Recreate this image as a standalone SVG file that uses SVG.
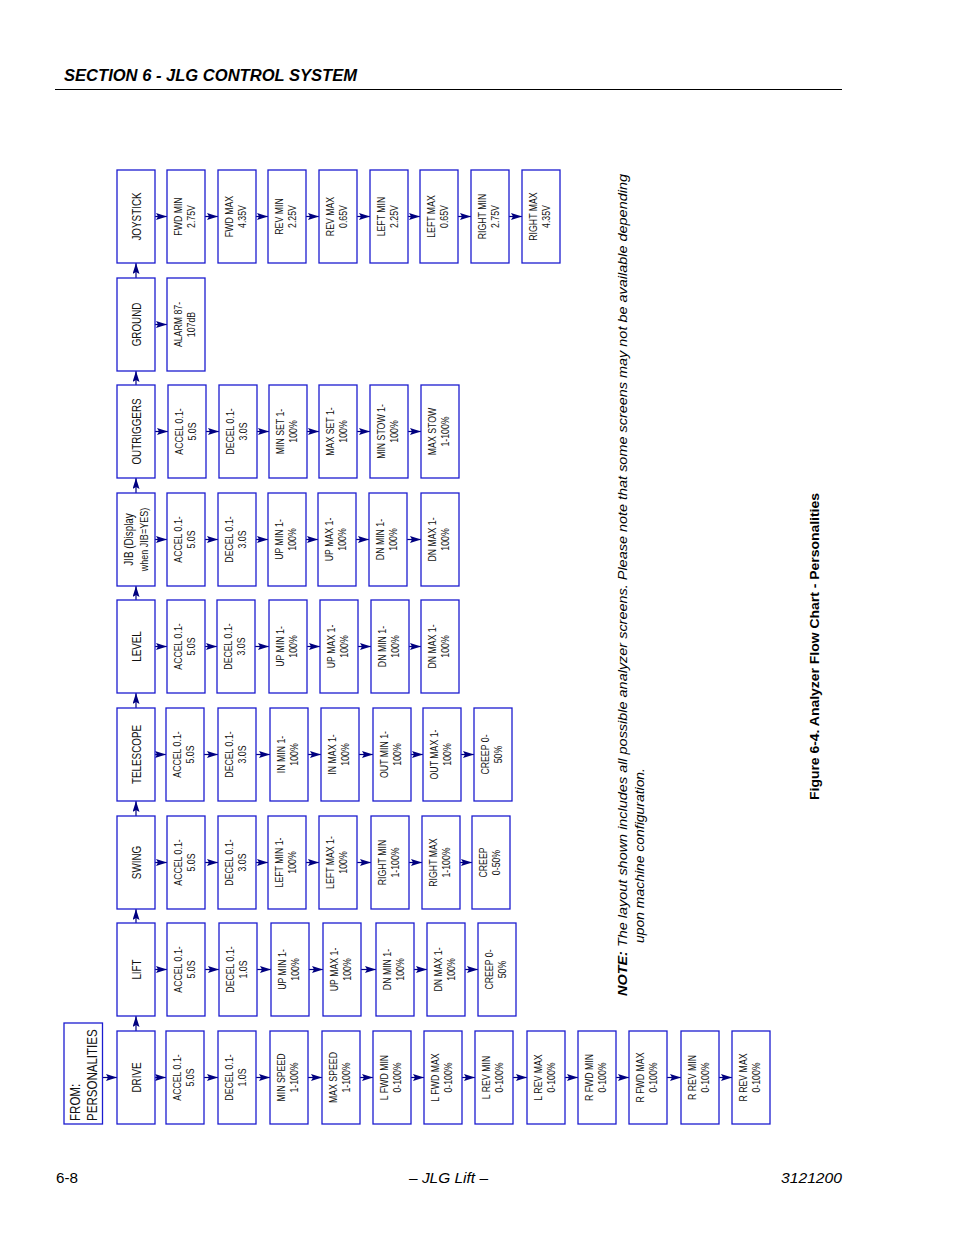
<svg xmlns="http://www.w3.org/2000/svg" width="954" height="1235" viewBox="0 0 954 1235">
<style>
.b{fill:#fff;stroke:#1c1cd0;stroke-width:1.3}
.c{font-family:"Liberation Sans",Arial,sans-serif;font-size:12px;fill:#111;text-anchor:middle}
.v{font-family:"Liberation Sans",Arial,sans-serif;font-size:10.3px;fill:#111;text-anchor:middle}
.cn path{fill:none;stroke:#000080;stroke-width:1.2;marker-end:url(#ah)}
.t{font-family:"Liberation Sans",Arial,sans-serif;fill:#000}
</style>
<defs>
<marker id="ah" viewBox="0 0 11 7" refX="11" refY="3.5" markerWidth="11" markerHeight="7" orient="auto" markerUnits="userSpaceOnUse"><path d="M0,0L11,3.5L0,7L2,3.5z" fill="#000080"/></marker>
</defs>
<rect width="954" height="1235" fill="#fff"/>
<g id="header">
<text class="t" x="64" y="81" font-size="16" font-weight="bold" font-style="italic" textLength="293" lengthAdjust="spacingAndGlyphs">SECTION 6 - JLG CONTROL SYSTEM</text>
<line x1="55" y1="89.5" x2="842" y2="89.5" stroke="#000" stroke-width="1"/>
</g>
<g id="footer">
<text class="t" x="56" y="1183" font-size="14" textLength="22" lengthAdjust="spacingAndGlyphs">6-8</text>
<text class="t" x="409" y="1183" font-size="14" font-style="italic" textLength="79" lengthAdjust="spacingAndGlyphs">– JLG Lift –</text>
<text class="t" x="781" y="1183" font-size="14" font-style="italic" textLength="61" lengthAdjust="spacingAndGlyphs">3121200</text>
</g>
<g id="note">
<text class="t" font-size="13" font-style="italic" transform="translate(627,996) rotate(-90)" textLength="822" lengthAdjust="spacingAndGlyphs"><tspan font-weight="bold">NOTE:</tspan> The layout shown includes all possible analyzer screens. Please note that some screens may not be available depending</text>
<text class="t" font-size="13" font-style="italic" transform="translate(644,943) rotate(-90)" textLength="175" lengthAdjust="spacingAndGlyphs">upon machine configuration.</text>
</g>
<g id="caption">
<text class="t" font-size="13" font-weight="bold" transform="translate(819,800) rotate(-90)" textLength="307" lengthAdjust="spacingAndGlyphs">Figure 6-4.  Analyzer Flow Chart - Personalities</text>
</g>

<g class="cn" id="connectors">
<path d="M103,1077.5H117"/>
<path d="M136,1031V1016"/><path d="M136,923V909"/><path d="M136,816V801"/><path d="M136,708V693"/><path d="M136,600V586"/><path d="M136,493V478"/><path d="M136,385V371"/><path d="M136,278V263"/>
<path d="M155,216.5H167"/><path d="M205,216.5H218"/><path d="M256,216.5H268"/><path d="M306,216.5H319"/><path d="M357,216.5H370"/><path d="M408,216.5H420"/><path d="M458,216.5H471"/><path d="M509,216.5H522"/>
<path d="M155,324.5H167"/>
<path d="M155,431.5H168"/><path d="M206,431.5H219"/><path d="M257,431.5H269"/><path d="M307,431.5H319"/><path d="M357,431.5H370"/><path d="M408,431.5H421"/>
<path d="M155,539.5H167"/><path d="M205,539.5H218"/><path d="M256,539.5H268"/><path d="M306,539.5H318"/><path d="M356,539.5H369"/><path d="M407,539.5H421"/>
<path d="M155,646.5H167"/><path d="M205,646.5H217"/><path d="M255,646.5H269"/><path d="M307,646.5H320"/><path d="M358,646.5H371"/><path d="M409,646.5H421"/>
<path d="M155,754.5H166"/><path d="M204,754.5H218"/><path d="M256,754.5H270"/><path d="M308,754.5H321"/><path d="M359,754.5H373"/><path d="M411,754.5H423"/><path d="M461,754.5H474"/>
<path d="M155,862.5H167"/><path d="M205,862.5H218"/><path d="M256,862.5H268"/><path d="M306,862.5H319"/><path d="M357,862.5H371"/><path d="M409,862.5H422"/><path d="M460,862.5H472"/>
<path d="M155,969.5H167"/><path d="M205,969.5H219"/><path d="M257,969.5H271"/><path d="M309,969.5H323"/><path d="M361,969.5H376"/><path d="M414,969.5H427"/><path d="M465,969.5H478"/>
<path d="M155,1077.5H166"/><path d="M204,1077.5H218"/><path d="M256,1077.5H270"/><path d="M308,1077.5H322"/><path d="M360,1077.5H373"/><path d="M411,1077.5H424"/><path d="M462,1077.5H475"/><path d="M513,1077.5H527"/><path d="M565,1077.5H578"/><path d="M616,1077.5H629"/><path d="M667,1077.5H681"/><path d="M719,1077.5H732"/>
</g>

<g id="from"><rect class="b" x="64" y="1023" width="38.5" height="101"/><text class="c" style="text-anchor:start;font-size:15px" transform="translate(80,1121) rotate(-90) scale(.77,1)"><tspan x="0">FROM:</tspan><tspan x="0" dy="17.5">PERSONALITIES</tspan></text></g>

<!-- JOYSTICK row -->
<g id="joystick"><rect class="b" x="117" y="170" width="38" height="93"/><text class="c" transform="translate(140.5,216.5) rotate(-90) scale(.82,1)">JOYSTICK</text></g>
<g id="j1"><rect class="b" x="167" y="170" width="38" height="93"/><text class="v" transform="translate(182,216.5) rotate(-90) scale(.85,1)"><tspan x="0">FWD MIN</tspan><tspan x="0" dy="13">2.75V</tspan></text></g>
<g id="j2"><rect class="b" x="218" y="170" width="38" height="93"/><text class="v" transform="translate(233,216.5) rotate(-90) scale(.85,1)"><tspan x="0">FWD MAX</tspan><tspan x="0" dy="13">4.35V</tspan></text></g>
<g id="j3"><rect class="b" x="268" y="170" width="38" height="93"/><text class="v" transform="translate(283,216.5) rotate(-90) scale(.85,1)"><tspan x="0">REV MIN</tspan><tspan x="0" dy="13">2.25V</tspan></text></g>
<g id="j4"><rect class="b" x="319" y="170" width="38" height="93"/><text class="v" transform="translate(334,216.5) rotate(-90) scale(.85,1)"><tspan x="0">REV MAX</tspan><tspan x="0" dy="13">0.65V</tspan></text></g>
<g id="j5"><rect class="b" x="370" y="170" width="38" height="93"/><text class="v" transform="translate(385,216.5) rotate(-90) scale(.85,1)"><tspan x="0">LEFT MIN</tspan><tspan x="0" dy="13">2.25V</tspan></text></g>
<g id="j6"><rect class="b" x="420" y="170" width="38" height="93"/><text class="v" transform="translate(435,216.5) rotate(-90) scale(.85,1)"><tspan x="0">LEFT MAX</tspan><tspan x="0" dy="13">0.65V</tspan></text></g>
<g id="j7"><rect class="b" x="471" y="170" width="38" height="93"/><text class="v" transform="translate(486,216.5) rotate(-90) scale(.85,1)"><tspan x="0">RIGHT MIN</tspan><tspan x="0" dy="13">2.75V</tspan></text></g>
<g id="j8"><rect class="b" x="522" y="170" width="38" height="93"/><text class="v" transform="translate(537,216.5) rotate(-90) scale(.85,1)"><tspan x="0">RIGHT MAX</tspan><tspan x="0" dy="13">4.35V</tspan></text></g>

<!-- GROUND row -->
<g id="ground"><rect class="b" x="117" y="278" width="38" height="93"/><text class="c" transform="translate(140.5,324.5) rotate(-90) scale(.82,1)">GROUND</text></g>
<g id="g1"><rect class="b" x="167" y="278" width="38" height="93"/><text class="v" transform="translate(182,324.5) rotate(-90) scale(.85,1)"><tspan x="0">ALARM 87-</tspan><tspan x="0" dy="13">107dB</tspan></text></g>

<!-- OUTRIGGERS row -->
<g id="outriggers"><rect class="b" x="117" y="385" width="38" height="93"/><text class="c" transform="translate(140.5,431.5) rotate(-90) scale(.82,1)">OUTRIGGERS</text></g>
<g id="o1"><rect class="b" x="168" y="385" width="38" height="93"/><text class="v" transform="translate(183,431.5) rotate(-90) scale(.85,1)"><tspan x="0">ACCEL 0.1-</tspan><tspan x="0" dy="13">5.0S</tspan></text></g>
<g id="o2"><rect class="b" x="219" y="385" width="38" height="93"/><text class="v" transform="translate(234,431.5) rotate(-90) scale(.85,1)"><tspan x="0">DECEL 0.1-</tspan><tspan x="0" dy="13">3.0S</tspan></text></g>
<g id="o3"><rect class="b" x="269" y="385" width="38" height="93"/><text class="v" transform="translate(284,431.5) rotate(-90) scale(.85,1)"><tspan x="0">MIN SET 1-</tspan><tspan x="0" dy="13">100%</tspan></text></g>
<g id="o4"><rect class="b" x="319" y="385" width="38" height="93"/><text class="v" transform="translate(334,431.5) rotate(-90) scale(.85,1)"><tspan x="0">MAX SET 1-</tspan><tspan x="0" dy="13">100%</tspan></text></g>
<g id="o5"><rect class="b" x="370" y="385" width="38" height="93"/><text class="v" transform="translate(385,431.5) rotate(-90) scale(.85,1)"><tspan x="0">MIN STOW 1-</tspan><tspan x="0" dy="13">100%</tspan></text></g>
<g id="o6"><rect class="b" x="421" y="385" width="38" height="93"/><text class="v" transform="translate(436,431.5) rotate(-90) scale(.85,1)"><tspan x="0">MAX STOW</tspan><tspan x="0" dy="13">1-100%</tspan></text></g>

<!-- JIB row -->
<g id="jib"><rect class="b" x="117" y="493" width="38" height="93"/><text class="c" transform="translate(133,539.5) rotate(-90) scale(.82,1)"><tspan x="0">JIB (Display</tspan><tspan x="0" dy="15" style="font-size:11px">when JIB=YES)</tspan></text></g>
<g id="b1"><rect class="b" x="167" y="493" width="38" height="93"/><text class="v" transform="translate(182,539.5) rotate(-90) scale(.85,1)"><tspan x="0">ACCEL 0.1-</tspan><tspan x="0" dy="13">5.0S</tspan></text></g>
<g id="b2"><rect class="b" x="218" y="493" width="38" height="93"/><text class="v" transform="translate(233,539.5) rotate(-90) scale(.85,1)"><tspan x="0">DECEL 0.1-</tspan><tspan x="0" dy="13">3.0S</tspan></text></g>
<g id="b3"><rect class="b" x="268" y="493" width="38" height="93"/><text class="v" transform="translate(283,539.5) rotate(-90) scale(.85,1)"><tspan x="0">UP MIN 1-</tspan><tspan x="0" dy="13">100%</tspan></text></g>
<g id="b4"><rect class="b" x="318" y="493" width="38" height="93"/><text class="v" transform="translate(333,539.5) rotate(-90) scale(.85,1)"><tspan x="0">UP MAX 1-</tspan><tspan x="0" dy="13">100%</tspan></text></g>
<g id="b5"><rect class="b" x="369" y="493" width="38" height="93"/><text class="v" transform="translate(384,539.5) rotate(-90) scale(.85,1)"><tspan x="0">DN MIN 1-</tspan><tspan x="0" dy="13">100%</tspan></text></g>
<g id="b6"><rect class="b" x="421" y="493" width="38" height="93"/><text class="v" transform="translate(436,539.5) rotate(-90) scale(.85,1)"><tspan x="0">DN MAX 1-</tspan><tspan x="0" dy="13">100%</tspan></text></g>

<!-- LEVEL row -->
<g id="level"><rect class="b" x="117" y="600" width="38" height="93"/><text class="c" transform="translate(140.5,646.5) rotate(-90) scale(.82,1)">LEVEL</text></g>
<g id="l1"><rect class="b" x="167" y="600" width="38" height="93"/><text class="v" transform="translate(182,646.5) rotate(-90) scale(.85,1)"><tspan x="0">ACCEL 0.1-</tspan><tspan x="0" dy="13">5.0S</tspan></text></g>
<g id="l2"><rect class="b" x="217" y="600" width="38" height="93"/><text class="v" transform="translate(232,646.5) rotate(-90) scale(.85,1)"><tspan x="0">DECEL 0.1-</tspan><tspan x="0" dy="13">3.0S</tspan></text></g>
<g id="l3"><rect class="b" x="269" y="600" width="38" height="93"/><text class="v" transform="translate(284,646.5) rotate(-90) scale(.85,1)"><tspan x="0">UP MIN 1-</tspan><tspan x="0" dy="13">100%</tspan></text></g>
<g id="l4"><rect class="b" x="320" y="600" width="38" height="93"/><text class="v" transform="translate(335,646.5) rotate(-90) scale(.85,1)"><tspan x="0">UP MAX 1-</tspan><tspan x="0" dy="13">100%</tspan></text></g>
<g id="l5"><rect class="b" x="371" y="600" width="38" height="93"/><text class="v" transform="translate(386,646.5) rotate(-90) scale(.85,1)"><tspan x="0">DN MIN 1-</tspan><tspan x="0" dy="13">100%</tspan></text></g>
<g id="l6"><rect class="b" x="421" y="600" width="38" height="93"/><text class="v" transform="translate(436,646.5) rotate(-90) scale(.85,1)"><tspan x="0">DN MAX 1-</tspan><tspan x="0" dy="13">100%</tspan></text></g>

<!-- TELESCOPE row -->
<g id="telescope"><rect class="b" x="117" y="708" width="38" height="93"/><text class="c" transform="translate(140.5,754.5) rotate(-90) scale(.82,1)">TELESCOPE</text></g>
<g id="t1"><rect class="b" x="166" y="708" width="38" height="93"/><text class="v" transform="translate(181,754.5) rotate(-90) scale(.85,1)"><tspan x="0">ACCEL 0.1-</tspan><tspan x="0" dy="13">5.0S</tspan></text></g>
<g id="t2"><rect class="b" x="218" y="708" width="38" height="93"/><text class="v" transform="translate(233,754.5) rotate(-90) scale(.85,1)"><tspan x="0">DECEL 0.1-</tspan><tspan x="0" dy="13">3.0S</tspan></text></g>
<g id="t3"><rect class="b" x="270" y="708" width="38" height="93"/><text class="v" transform="translate(285,754.5) rotate(-90) scale(.85,1)"><tspan x="0">IN MIN 1-</tspan><tspan x="0" dy="13">100%</tspan></text></g>
<g id="t4"><rect class="b" x="321" y="708" width="38" height="93"/><text class="v" transform="translate(336,754.5) rotate(-90) scale(.85,1)"><tspan x="0">IN MAX 1-</tspan><tspan x="0" dy="13">100%</tspan></text></g>
<g id="t5"><rect class="b" x="373" y="708" width="38" height="93"/><text class="v" transform="translate(388,754.5) rotate(-90) scale(.85,1)"><tspan x="0">OUT MIN 1-</tspan><tspan x="0" dy="13">100%</tspan></text></g>
<g id="t6"><rect class="b" x="423" y="708" width="38" height="93"/><text class="v" transform="translate(438,754.5) rotate(-90) scale(.85,1)"><tspan x="0">OUT MAX 1-</tspan><tspan x="0" dy="13">100%</tspan></text></g>
<g id="t7"><rect class="b" x="474" y="708" width="38" height="93"/><text class="v" transform="translate(489,754.5) rotate(-90) scale(.85,1)"><tspan x="0">CREEP 0-</tspan><tspan x="0" dy="13">50%</tspan></text></g>

<!-- SWING row -->
<g id="swing"><rect class="b" x="117" y="816" width="38" height="93"/><text class="c" transform="translate(140.5,862.5) rotate(-90) scale(.82,1)">SWING</text></g>
<g id="s1"><rect class="b" x="167" y="816" width="38" height="93"/><text class="v" transform="translate(182,862.5) rotate(-90) scale(.85,1)"><tspan x="0">ACCEL 0.1-</tspan><tspan x="0" dy="13">5.0S</tspan></text></g>
<g id="s2"><rect class="b" x="218" y="816" width="38" height="93"/><text class="v" transform="translate(233,862.5) rotate(-90) scale(.85,1)"><tspan x="0">DECEL 0.1-</tspan><tspan x="0" dy="13">3.0S</tspan></text></g>
<g id="s3"><rect class="b" x="268" y="816" width="38" height="93"/><text class="v" transform="translate(283,862.5) rotate(-90) scale(.85,1)"><tspan x="0">LEFT MIN 1-</tspan><tspan x="0" dy="13">100%</tspan></text></g>
<g id="s4"><rect class="b" x="319" y="816" width="38" height="93"/><text class="v" transform="translate(334,862.5) rotate(-90) scale(.85,1)"><tspan x="0">LEFT MAX 1-</tspan><tspan x="0" dy="13">100%</tspan></text></g>
<g id="s5"><rect class="b" x="371" y="816" width="38" height="93"/><text class="v" transform="translate(386,862.5) rotate(-90) scale(.85,1)"><tspan x="0">RIGHT MIN</tspan><tspan x="0" dy="13">1-100%</tspan></text></g>
<g id="s6"><rect class="b" x="422" y="816" width="38" height="93"/><text class="v" transform="translate(437,862.5) rotate(-90) scale(.85,1)"><tspan x="0">RIGHT MAX</tspan><tspan x="0" dy="13">1-100%</tspan></text></g>
<g id="s7"><rect class="b" x="472" y="816" width="38" height="93"/><text class="v" transform="translate(487,862.5) rotate(-90) scale(.85,1)"><tspan x="0">CREEP</tspan><tspan x="0" dy="13">0-50%</tspan></text></g>

<!-- LIFT row -->
<g id="lift"><rect class="b" x="117" y="923" width="38" height="93"/><text class="c" transform="translate(140.5,969.5) rotate(-90) scale(.82,1)">LIFT</text></g>
<g id="f1"><rect class="b" x="167" y="923" width="38" height="93"/><text class="v" transform="translate(182,969.5) rotate(-90) scale(.85,1)"><tspan x="0">ACCEL 0.1-</tspan><tspan x="0" dy="13">5.0S</tspan></text></g>
<g id="f2"><rect class="b" x="219" y="923" width="38" height="93"/><text class="v" transform="translate(234,969.5) rotate(-90) scale(.85,1)"><tspan x="0">DECEL 0.1-</tspan><tspan x="0" dy="13">1.0S</tspan></text></g>
<g id="f3"><rect class="b" x="271" y="923" width="38" height="93"/><text class="v" transform="translate(286,969.5) rotate(-90) scale(.85,1)"><tspan x="0">UP MIN 1-</tspan><tspan x="0" dy="13">100%</tspan></text></g>
<g id="f4"><rect class="b" x="323" y="923" width="38" height="93"/><text class="v" transform="translate(338,969.5) rotate(-90) scale(.85,1)"><tspan x="0">UP MAX 1-</tspan><tspan x="0" dy="13">100%</tspan></text></g>
<g id="f5"><rect class="b" x="376" y="923" width="38" height="93"/><text class="v" transform="translate(391,969.5) rotate(-90) scale(.85,1)"><tspan x="0">DN MIN 1-</tspan><tspan x="0" dy="13">100%</tspan></text></g>
<g id="f6"><rect class="b" x="427" y="923" width="38" height="93"/><text class="v" transform="translate(442,969.5) rotate(-90) scale(.85,1)"><tspan x="0">DN MAX 1-</tspan><tspan x="0" dy="13">100%</tspan></text></g>
<g id="f7"><rect class="b" x="478" y="923" width="38" height="93"/><text class="v" transform="translate(493,969.5) rotate(-90) scale(.85,1)"><tspan x="0">CREEP 0-</tspan><tspan x="0" dy="13">50%</tspan></text></g>

<!-- DRIVE row -->
<g id="drive"><rect class="b" x="117" y="1031" width="38" height="93"/><text class="c" transform="translate(140.5,1077.5) rotate(-90) scale(.82,1)">DRIVE</text></g>
<g id="d1"><rect class="b" x="166" y="1031" width="38" height="93"/><text class="v" transform="translate(181,1077.5) rotate(-90) scale(.85,1)"><tspan x="0">ACCEL 0.1-</tspan><tspan x="0" dy="13">5.0S</tspan></text></g>
<g id="d2"><rect class="b" x="218" y="1031" width="38" height="93"/><text class="v" transform="translate(233,1077.5) rotate(-90) scale(.85,1)"><tspan x="0">DECEL 0.1-</tspan><tspan x="0" dy="13">1.0S</tspan></text></g>
<g id="d3"><rect class="b" x="270" y="1031" width="38" height="93"/><text class="v" transform="translate(285,1077.5) rotate(-90) scale(.85,1)"><tspan x="0">MIN SPEED</tspan><tspan x="0" dy="13">1-100%</tspan></text></g>
<g id="d4"><rect class="b" x="322" y="1031" width="38" height="93"/><text class="v" transform="translate(337,1077.5) rotate(-90) scale(.85,1)"><tspan x="0">MAX SPEED</tspan><tspan x="0" dy="13">1-100%</tspan></text></g>
<g id="d5"><rect class="b" x="373" y="1031" width="38" height="93"/><text class="v" transform="translate(388,1077.5) rotate(-90) scale(.85,1)"><tspan x="0">L FWD MIN</tspan><tspan x="0" dy="13">0-100%</tspan></text></g>
<g id="d6"><rect class="b" x="424" y="1031" width="38" height="93"/><text class="v" transform="translate(439,1077.5) rotate(-90) scale(.85,1)"><tspan x="0">L FWD MAX</tspan><tspan x="0" dy="13">0-100%</tspan></text></g>
<g id="d7"><rect class="b" x="475" y="1031" width="38" height="93"/><text class="v" transform="translate(490,1077.5) rotate(-90) scale(.85,1)"><tspan x="0">L REV MIN</tspan><tspan x="0" dy="13">0-100%</tspan></text></g>
<g id="d8"><rect class="b" x="527" y="1031" width="38" height="93"/><text class="v" transform="translate(542,1077.5) rotate(-90) scale(.85,1)"><tspan x="0">L REV MAX</tspan><tspan x="0" dy="13">0-100%</tspan></text></g>
<g id="d9"><rect class="b" x="578" y="1031" width="38" height="93"/><text class="v" transform="translate(593,1077.5) rotate(-90) scale(.85,1)"><tspan x="0">R FWD MIN</tspan><tspan x="0" dy="13">0-100%</tspan></text></g>
<g id="d10"><rect class="b" x="629" y="1031" width="38" height="93"/><text class="v" transform="translate(644,1077.5) rotate(-90) scale(.85,1)"><tspan x="0">R FWD MAX</tspan><tspan x="0" dy="13">0-100%</tspan></text></g>
<g id="d11"><rect class="b" x="681" y="1031" width="38" height="93"/><text class="v" transform="translate(696,1077.5) rotate(-90) scale(.85,1)"><tspan x="0">R REV MIN</tspan><tspan x="0" dy="13">0-100%</tspan></text></g>
<g id="d12"><rect class="b" x="732" y="1031" width="38" height="93"/><text class="v" transform="translate(747,1077.5) rotate(-90) scale(.85,1)"><tspan x="0">R REV MAX</tspan><tspan x="0" dy="13">0-100%</tspan></text></g>
</svg>
